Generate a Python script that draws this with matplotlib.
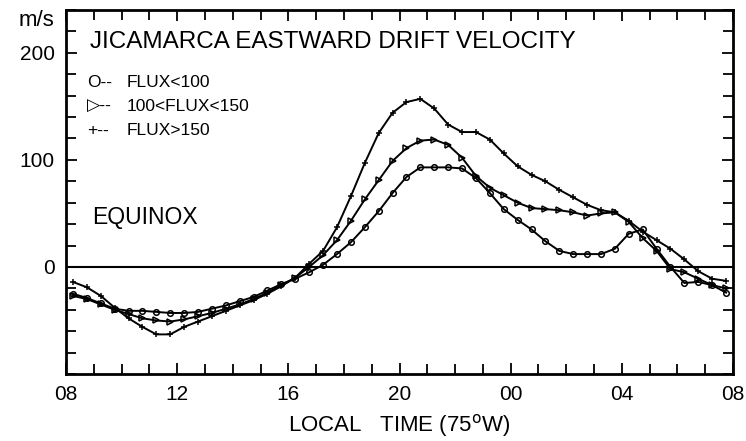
import numpy as np
import matplotlib
matplotlib.use("Agg")
import matplotlib.pyplot as plt
from matplotlib.ticker import MultipleLocator, FuncFormatter

plt.rcParams['font.family'] = ['Liberation Sans', 'DejaVu Sans']

# local time (hours, 08 -> 08 next day), half-hour bins
hours = [8.25 + 0.5 * i for i in range(48)]

flux_low = [-25, -29, -34, -39, -41, -41, -42, -43, -43, -42, -39, -36,
            -32, -28, -22, -16, -11, -5, 2, 12, 23, 37, 52, 69,
            84, 93, 93, 93, 92, 83, 69, 54, 44, 35, 24, 15,
            12, 12, 12, 17, 31, 35, 17, 0, -15, -14, -17, -24]

flux_mid = [-27, -30, -35, -40, -44, -48, -50, -51, -49, -46, -43, -39,
            -35, -30, -24, -17, -10, 0, 11, 25, 43, 63, 81, 99,
            111, 118, 119, 114, 102, 85, 74, 67, 60, 55, 54, 53,
            51, 48, 50, 51, 42, 27, 15, -2, -5, -11, -17, -20]

flux_high = [-14, -19, -27, -38, -48, -56, -63, -63, -56, -51, -46, -41,
             -36, -31, -25, -18, -10, 3, 15, 37, 66, 97, 125, 144,
             154, 157, 148, 133, 126, 126, 119, 106, 94, 86, 80, 72,
             65, 58, 53, 51, 43, 33, 25, 17, 7, -4, -11, -13]

legend_marks = ['O--', '\u25b7--', '+--']
legend_labels = ['FLUX<100', '100<FLUX<150', 'FLUX>150']

fig = plt.figure(figsize=(7.46, 4.41), dpi=100)
ax = fig.add_axes([66 / 746, 1 - 374 / 441, 667 / 746, 364 / 441])

ax.axhline(0, color='black', lw=1.5)

style = dict(color='black', lw=1.4, markersize=4, markeredgewidth=1.1)
ax.plot(hours, flux_low, marker='o', mfc='none', **style)
ax.plot(hours, flux_mid, marker='>', mfc='none', **style)
ax.plot(hours, flux_high, marker='+', **style)

ax.set_xlim(8, 32)
ax.set_ylim(-100, 240)

ax.xaxis.set_major_locator(MultipleLocator(4))
ax.xaxis.set_minor_locator(MultipleLocator(1))
ax.xaxis.set_major_formatter(FuncFormatter(lambda v, p: '%02d' % (int(round(v)) % 24)))
ax.set_yticks([0, 100, 200])
ax.yaxis.set_minor_locator(MultipleLocator(20))

ax.tick_params(which='both', direction='in', top=True, right=True, width=1.3)
ax.tick_params(which='major', length=8, labelsize=15, pad=8)
ax.tick_params(which='minor', length=7)
ax.tick_params(axis='y', labelsize=15, pad=8)
for s in ax.spines.values():
    s.set_linewidth(2)

ax.set_xlabel('LOCAL   TIME (75$^{\\rm o}$W)', fontsize=16, labelpad=6)

ax.text(-0.017, 0.972, 'm/s', transform=ax.transAxes, ha='right', va='center', fontsize=16)
ax.text(0.036, 0.912, 'JICAMARCA EASTWARD DRIFT VELOCITY', transform=ax.transAxes,
        ha='left', va='center', fontsize=17.5)
ax.text(0.039, 0.431, 'EQUINOX', transform=ax.transAxes, ha='left', va='center', fontsize=16.5)

for mk, lab, yy in zip(legend_marks, legend_labels, [0.802, 0.736, 0.668]):
    ax.text(0.032, yy, mk, transform=ax.transAxes, ha='left', va='center', fontsize=12.5)
    ax.text(0.0915, yy, lab, transform=ax.transAxes, ha='left', va='center', fontsize=12.5)

fig.savefig('out.png', dpi=100)
